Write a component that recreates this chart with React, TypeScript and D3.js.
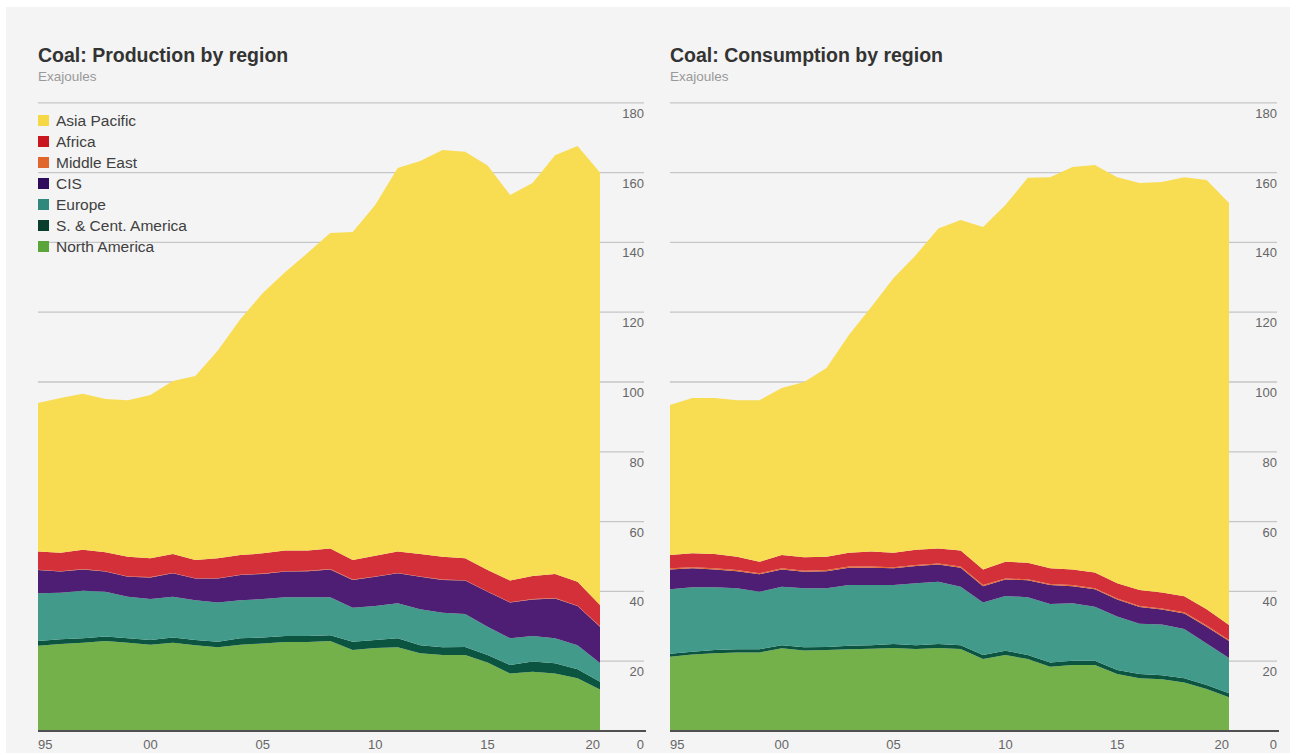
import * as d3 from "d3"

const W = 1290, H = 753

const YEARS = [1995, 1996, 1997, 1998, 1999, 2000, 2001, 2002, 2003, 2004, 2005, 2006, 2007, 2008, 2009, 2010, 2011, 2012, 2013, 2014, 2015, 2016, 2017, 2018, 2019, 2020]

// stack order, bottom to top
const REGIONS = ["North America", "S. & Cent. America", "Europe", "CIS", "Middle East", "Africa", "Asia Pacific"]
const LEGEND_ORDER = ["Asia Pacific", "Africa", "Middle East", "CIS", "Europe", "S. & Cent. America", "North America"]

// Production, exajoules
const PROD_NORTH_AMERICA = [24.4, 24.9, 25.3, 25.8, 25.3, 24.7, 25.3, 24.6, 24.0, 24.7, 25.1, 25.5, 25.5, 25.8, 23.2, 23.8, 24.0, 22.3, 21.8, 21.8, 19.6, 16.5, 17.0, 16.5, 15.1, 11.9]
const PROD_SC_AMERICA = [1.4, 1.4, 1.3, 1.3, 1.3, 1.4, 1.5, 1.5, 1.6, 1.9, 1.7, 1.7, 1.7, 1.6, 2.4, 2.3, 2.6, 2.3, 2.2, 2.3, 2.2, 2.4, 2.9, 2.9, 2.6, 2.2]
const PROD_EUROPE = [13.7, 13.3, 13.6, 12.8, 11.9, 11.7, 11.7, 11.4, 11.2, 10.9, 11.0, 11.1, 11.1, 10.9, 9.7, 9.7, 10.0, 10.3, 9.9, 9.4, 8.1, 7.7, 7.3, 7.2, 6.9, 5.4]
const PROD_CIS = [6.6, 6.1, 6.1, 5.8, 5.7, 6.2, 6.7, 6.2, 6.9, 7.2, 7.2, 7.4, 7.5, 8.0, 8.0, 8.4, 8.6, 9.3, 9.4, 9.6, 10.0, 10.2, 10.5, 11.4, 11.2, 10.4]
const PROD_MIDDLE_EAST = [0.1, 0.1, 0.1, 0.1, 0.1, 0.1, 0.1, 0.1, 0.1, 0.1, 0.1, 0.1, 0.1, 0.1, 0.1, 0.1, 0.1, 0.1, 0.1, 0.1, 0.1, 0.1, 0.1, 0.1, 0.1, 0.1]
const PROD_AFRICA = [5.2, 5.3, 5.5, 5.4, 5.6, 5.4, 5.4, 5.2, 5.7, 5.6, 5.8, 5.9, 5.8, 5.9, 5.6, 5.9, 6.1, 6.4, 6.5, 6.3, 6.1, 6.2, 6.6, 6.9, 6.9, 6.1]
const PROD_ASIA_PACIFIC = [42.6, 44.3, 44.7, 43.9, 44.9, 46.8, 49.6, 52.7, 59.5, 67.6, 74.6, 79.8, 85.3, 90.4, 94.0, 100.5, 109.9, 112.6, 116.6, 116.5, 115.9, 110.5, 112.6, 120.0, 124.8, 123.9]

// Consumption, exajoules
const CONS_NORTH_AMERICA = [21.3, 21.9, 22.3, 22.5, 22.5, 23.7, 23.1, 23.2, 23.4, 23.6, 23.8, 23.5, 23.8, 23.5, 20.6, 21.8, 20.6, 18.4, 18.9, 18.9, 16.3, 15.1, 14.8, 13.9, 12.0, 9.7]
const CONS_SC_AMERICA = [0.8, 0.8, 0.9, 0.9, 0.9, 0.9, 0.9, 0.9, 1.0, 1.0, 1.1, 1.1, 1.1, 1.1, 1.2, 1.2, 1.2, 1.2, 1.2, 1.2, 1.2, 1.2, 1.2, 1.2, 1.2, 1.1]
const CONS_EUROPE = [18.5, 18.5, 18.0, 17.5, 16.5, 16.7, 16.9, 16.8, 17.4, 17.2, 16.9, 17.7, 17.9, 16.7, 15.0, 15.7, 16.5, 16.8, 16.5, 15.5, 15.3, 14.4, 14.5, 14.1, 11.9, 10.1]
const CONS_CIS = [5.7, 5.4, 5.1, 4.9, 5.0, 5.0, 4.7, 4.9, 5.0, 5.0, 4.8, 5.0, 4.9, 5.5, 4.7, 4.7, 4.9, 5.4, 4.9, 5.0, 4.9, 4.8, 4.3, 4.5, 4.8, 4.9]
const CONS_MIDDLE_EAST = [0.3, 0.3, 0.3, 0.3, 0.3, 0.3, 0.3, 0.3, 0.3, 0.3, 0.3, 0.3, 0.3, 0.3, 0.3, 0.3, 0.3, 0.3, 0.3, 0.3, 0.3, 0.3, 0.3, 0.3, 0.3, 0.3]
const CONS_AFRICA = [3.8, 4.0, 4.1, 3.8, 3.3, 3.8, 3.9, 3.8, 4.0, 4.3, 4.2, 4.3, 4.3, 4.6, 4.5, 4.8, 4.7, 4.5, 4.5, 4.5, 4.3, 4.6, 4.6, 4.6, 4.7, 4.3]
const CONS_ASIA_PACIFIC = [43.0, 44.5, 44.7, 44.9, 46.3, 47.9, 50.2, 54.1, 62.4, 70.1, 78.7, 84.5, 91.7, 94.7, 98.1, 102.2, 110.3, 112.1, 115.3, 116.8, 116.4, 116.6, 117.6, 120.1, 123.0, 120.9]

const Y_TICKS = [0, 20, 40, 60, 80, 100, 120, 140, 160, 180]
const X_TICKS = [1995, 2000, 2005, 2010, 2015, 2020]
const X_TICK_LABELS = ["95", "00", "05", "10", "15", "20"]

const AREA_COLORS: Record<string, string> = {
  "Asia Pacific": "#f8dc52",
  "Africa": "#d3303a",
  "Middle East": "#e4692d",
  "CIS": "#4d1e74",
  "Europe": "#429a8b",
  "S. & Cent. America": "#0b5440",
  "North America": "#74b14b",
}
const SWATCH_COLORS: Record<string, string> = {
  "Asia Pacific": "#f5d843",
  "Africa": "#c9161f",
  "Middle East": "#e0662c",
  "CIS": "#2e0b5c",
  "Europe": "#2e887b",
  "S. & Cent. America": "#0a3e2c",
  "North America": "#5ca53b",
}

const FONT = "'Liberation Sans', Arial, Helvetica, sans-serif"
const Y0 = 731, Y180 = 102.8

function StackChart({ title, series, x0, x1, gridEnd, legend }: {
  title: string, series: number[][], x0: number, x1: number, gridEnd: number, legend?: boolean
}) {
  const rows = YEARS.map((yr, i) => {
    const r: Record<string, number> = { year: yr }
    REGIONS.forEach((k, j) => { r[k] = series[j][i] })
    return r
  })
  const layers = d3.stack<Record<string, number>>().keys(REGIONS)(rows)
  const x = d3.scaleLinear().domain([1995, 2020]).range([x0, x1])
  const y = d3.scaleLinear().domain([0, 180]).range([Y0, Y180])
  const area = d3.area<any>()
    .x(d => x(d.data.year))
    .y0(d => y(d[0]))
    .y1(d => y(d[1]))

  return (
    <g>
      <text x={x0} y={62} fontSize={19.5} fontWeight={700} fill="#333" fontFamily={FONT}>{title}</text>
      <text x={x0} y={81} fontSize={13.5} fill="#999" fontFamily={FONT}>Exajoules</text>

      {/* gridlines + y labels */}
      {Y_TICKS.filter(t => t > 0).map(t => (
        <g key={t}>
          <line x1={x0} x2={gridEnd} y1={y(t)} y2={y(t)} stroke="#c6c6c6" strokeWidth={1.3} />
          <text x={gridEnd} y={y(t) + 15} textAnchor="end" fontSize={13} fill="#666" fontFamily={FONT}>{t}</text>
        </g>
      ))}

      {layers.map(l => (
        <path key={l.key} d={area(l as any) || ""} fill={AREA_COLORS[l.key]} />
      ))}

      {/* zero line */}
      <line x1={x0} x2={gridEnd + 2} y1={Y0} y2={Y0} stroke="#505050" strokeWidth={2} />
      <text x={gridEnd} y={748.5} textAnchor="end" fontSize={13} fill="#666" fontFamily={FONT}>0</text>

      {X_TICKS.map((t, i) => (
        <text key={t} x={x(t)} y={748.5} fontSize={13} fill="#666" fontFamily={FONT}
          textAnchor={i === 0 ? "start" : i === X_TICKS.length - 1 ? "end" : "middle"}>
          {X_TICK_LABELS[i]}
        </text>
      ))}

      {legend && LEGEND_ORDER.map((k, i) => (
        <g key={k} transform={`translate(${x0},${120.5 + i * 21})`}>
          <rect x={0} y={-5.5} width={11} height={11} fill={SWATCH_COLORS[k]} />
          <text x={18} y={5.3} fontSize={15.5} fill="#404040" fontFamily={FONT}>{k}</text>
        </g>
      ))}
    </g>
  )
}

export default function App() {
  const prod = [PROD_NORTH_AMERICA, PROD_SC_AMERICA, PROD_EUROPE, PROD_CIS, PROD_MIDDLE_EAST, PROD_AFRICA, PROD_ASIA_PACIFIC]
  const cons = [CONS_NORTH_AMERICA, CONS_SC_AMERICA, CONS_EUROPE, CONS_CIS, CONS_MIDDLE_EAST, CONS_AFRICA, CONS_ASIA_PACIFIC]
  return (
    <svg width={W} height={H} style={{ position: "absolute", left: 0, top: 0, display: "block" }}>
      <rect x={0} y={0} width={W} height={H} fill="#fff" />
      <rect x={6} y={7} width={W - 6} height={H - 7} fill="#f4f4f4" />
      <StackChart title="Coal: Production by region" series={prod} x0={38} x1={600} gridEnd={644} legend />
      <StackChart title="Coal: Consumption by region" series={cons} x0={670} x1={1229} gridEnd={1277} />
    </svg>
  )
}
